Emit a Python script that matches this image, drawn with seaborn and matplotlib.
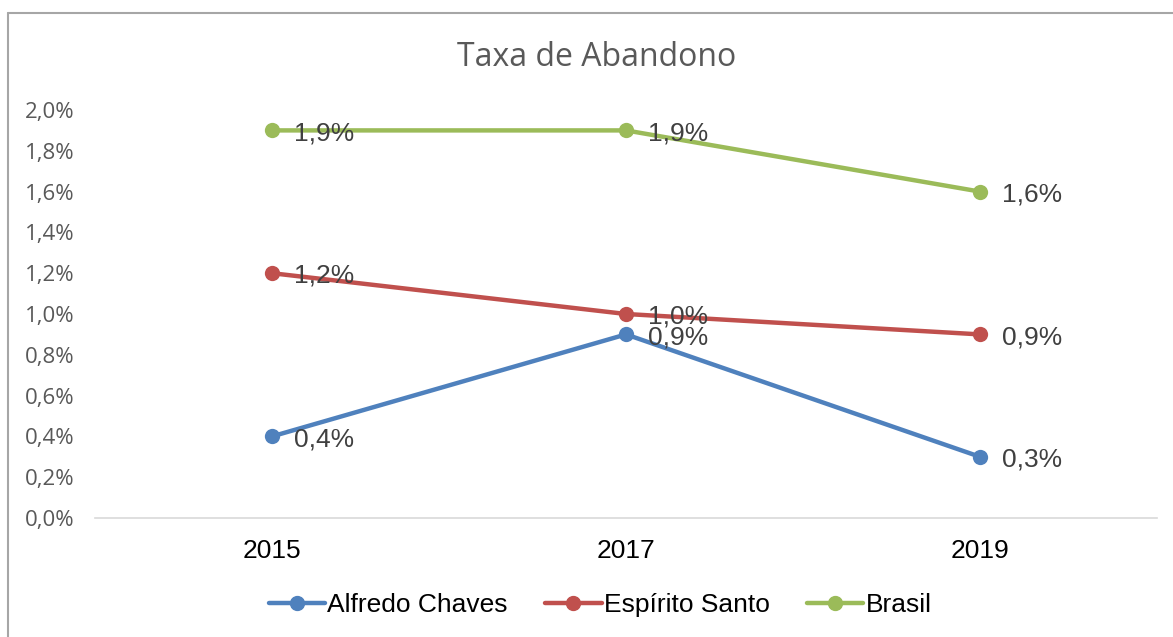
import matplotlib
matplotlib.use("Agg")
import matplotlib.pyplot as plt
from matplotlib.lines import Line2D
import seaborn as sns
import pandas as pd

# Data
anos = ['2015', '2017', '2019']
alfredo_chaves = [0.004, 0.009, 0.003]
espirito_santo = [0.012, 0.010, 0.009]
brasil = [0.019, 0.019, 0.016]
series_names = ['Alfredo Chaves', 'Espírito Santo', 'Brasil']
cores = ['#4F81BD', '#C0504D', '#9BBB59']

df = pd.DataFrame({
    'ano': anos * 3,
    'taxa': alfredo_chaves + espirito_santo + brasil,
    'serie': [s for s in series_names for _ in anos],
})

sns.set_theme(style="white")
plt.rcParams['font.family'] = ['Liberation Sans', 'DejaVu Sans']

fig = plt.figure(figsize=(11.73, 6.37), dpi=100)
ax = fig.add_axes([95 / 1173, 1 - 518 / 637, (1157 - 95) / 1173, (518 - 110) / 637])

sns.lineplot(data=df, x='ano', y='taxa', hue='serie', palette=cores,
             marker='o', markersize=11, markeredgewidth=0, linewidth=3.2,
             sort=False, legend=False, ax=ax)

ax.set_xlim(-0.5, 2.5)
ax.set_ylim(0, 0.02)
ticks = [i * 0.002 for i in range(11)]
ax.set_yticks(ticks)
ax.set_yticklabels([f"{t * 100:.1f}%".replace('.', ',') for t in ticks],
                   fontsize=16, color='#595959', family=['Open Sans', 'DejaVu Sans'])
ax.set_xticks(range(len(anos)))
ax.set_xticklabels(anos, fontsize=19, color='black')
ax.tick_params(axis='x', length=0, pad=15)
ax.tick_params(axis='y', length=0, pad=15)
ax.set_xlabel('')
ax.set_ylabel('')
for s in ['top', 'right', 'left']:
    ax.spines[s].set_visible(False)
ax.spines['bottom'].set_color('#D9D9D9')
ax.spines['bottom'].set_linewidth(1.2)

# Data labels (1,0% and 0,9% overlap in the original too)
for vals in [alfredo_chaves, espirito_santo, brasil]:
    for i, v in enumerate(vals):
        ax.annotate(f"{v * 100:.1f}%".replace('.', ','), (i, v), xytext=(16, -2),
                    textcoords='offset points', ha='left', va='center',
                    fontsize=19, color='#404040')

# Title centred on the whole chart area
fig.text(597 / 1173, 1 - 57 / 637, 'Taxa de Abandono', fontsize=23, color='#595959',
         family=['Open Sans', 'DejaVu Sans'], ha='center', va='center')

handles = [Line2D([0], [0], color=c, lw=3.2, marker='o', markersize=10) for c in cores]
leg = fig.legend(handles, series_names, loc='center', bbox_to_anchor=(600 / 1173, 1 - 605 / 637),
                 ncol=3, frameon=False, fontsize=19, handlelength=2.15, handletextpad=0.08,
                 columnspacing=1.4)
for t in leg.get_texts():
    t.set_color('black')

# Chart border
fig.add_artist(Line2D([7.5 / 1173, 7.5 / 1173], [0, 1 - 12.5 / 637], color='#A6A6A6', lw=1.5))
fig.add_artist(Line2D([7.5 / 1173, 1], [1 - 12.5 / 637, 1 - 12.5 / 637], color='#A6A6A6', lw=1.5))

fig.savefig('out.png', dpi=100)
